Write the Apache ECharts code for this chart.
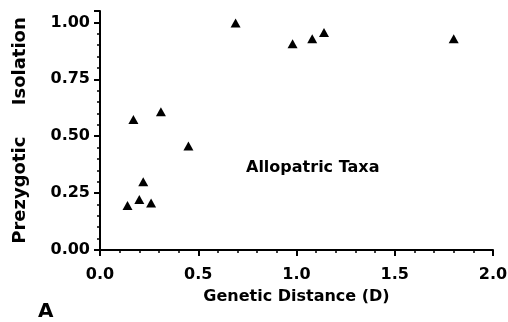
<!DOCTYPE html>
<html>
<head>
<meta charset="utf-8">
<script src="https://cdn.jsdelivr.net/npm/echarts@6/dist/echarts.min.js"></script>
<style>
  html, body { margin: 0; padding: 0; background: #fff; }
  #chart { width: 508px; height: 322px; }
</style>
</head>
<body>
<div id="chart"></div>
<script>
// genetic distance (D) vs prezygotic isolation, allopatric taxa
const distance = [0.14, 0.20, 0.22, 0.26, 0.17, 0.31, 0.45, 0.69, 0.98, 1.08, 1.14, 1.80];
const isolation = [0.195, 0.222, 0.30, 0.207, 0.573, 0.607, 0.457, 0.997, 0.906, 0.928, 0.956, 0.928];
const panelLetter = 'A';
const groupLabel = 'Allopatric Taxa';

const font = '"DejaVu Sans", Verdana, sans-serif';
const ink = '#000';

const chart = echarts.init(document.getElementById('chart'));

chart.setOption({
  backgroundColor: '#fff',
  animation: false,
  grid: { left: 100, right: 15, top: 11, bottom: 72, containLabel: false, outerBoundsMode: 'none' },
  xAxis: {
    type: 'value',
    min: 0,
    max: 2,
    interval: 0.5,
    name: 'Genetic Distance (D)',
    nameLocation: 'middle',
    nameGap: 39,
    nameTextStyle: { color: ink, fontFamily: font, fontWeight: 'bold', fontSize: 16 },
    axisLine: { lineStyle: { color: ink, width: 2 } },
    axisTick: { show: true, inside: false, length: 6, lineStyle: { color: ink, width: 2 } },
    minorTick: { show: true, splitNumber: 5, length: 3, lineStyle: { color: ink, width: 1.5 } },
    splitLine: { show: false },
    axisLabel: {
      color: ink, fontFamily: font, fontWeight: 'bold', fontSize: 16, margin: 17,
      formatter: v => v.toFixed(1)
    }
  },
  yAxis: {
    type: 'value',
    min: 0,
    max: 1.05,
    interval: 0.25,
    name: 'Prezygotic     Isolation',
    nameLocation: 'middle',
    nameGap: 71,
    nameTextStyle: { color: ink, fontFamily: font, fontWeight: 'bold', fontSize: 18 },
    axisLine: { lineStyle: { color: ink, width: 2 } },
    axisTick: { show: true, inside: false, length: 6, lineStyle: { color: ink, width: 2 } },
    minorTick: { show: true, splitNumber: 5, length: 3, lineStyle: { color: ink, width: 1.5 } },
    splitLine: { show: false },
    axisLabel: {
      color: ink, fontFamily: font, fontWeight: 'bold', fontSize: 16, margin: 10,
      showMaxLabel: false,
      formatter: v => v.toFixed(2)
    }
  },
  graphic: [
    {
      type: 'text', left: 246, top: 160,
      style: { text: groupLabel, fill: ink, font: 'bold 16px ' + font }
    },
    {
      type: 'text', left: 38, top: 302,
      style: { text: panelLetter, fill: ink, font: 'bold 20px ' + font }
    }
  ],
  series: [{
    type: 'scatter',
    symbol: 'triangle',
    symbolSize: [10, 9],
    itemStyle: { color: '#000', opacity: 1 },
    data: distance.map((d, i) => [d, isolation[i]])
  }]
});
</script>
</body>
</html>
